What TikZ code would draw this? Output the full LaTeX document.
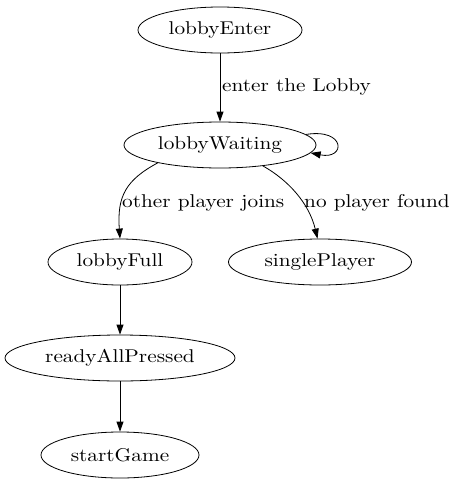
\documentclass[tikz,border=0pt]{standalone}
\usepackage{fontspec}
\setmainfont{lmroman10-regular.otf}[FakeStretch=1.15]
\usetikzlibrary{shapes.geometric,arrows.meta}
\begin{document}
\begin{tikzpicture}[x=1pt,y=-1pt,
  state/.style={draw,ellipse,inner sep=0pt,minimum height=46pt,font=\fontsize{18.5}{20}\selectfont,line width=0.8pt},
  lbl/.style={anchor=west,inner sep=0pt,font=\fontsize{18.5}{20}\selectfont},
  edge/.style={-{Triangle[length=10pt,width=7pt]},line width=0.8pt}]
\useasboundingbox (0,0) rectangle (458,485);
\node[state,minimum width=164pt] (le) at (220,30) {lobbyEnter};
\node[state,minimum width=192pt] (lw) at (220,145) {lobbyWaiting};
\node[state,minimum width=144pt] (lf) at (120,262) {lobbyFull};
\node[state,minimum width=183pt] (sp) at (320,262) {singlePlayer};
\node[state,minimum width=230pt] (ra) at (120,358) {readyAllPressed};
\node[state,minimum width=158pt] (sg) at (120,455) {startGame};
\draw[edge] (le) -- (lw);
\draw[edge] (lw.7) .. controls (346,128) and (346,160) .. (lw.-5);
\draw[edge] (lw.196) .. controls (126,180) and (117,196) .. (lf.north);
\draw[edge] (lw.-26) .. controls (288,180) and (309,203) .. (sp.96);
\draw[edge] (lf) -- (ra);
\draw[edge] (ra) -- (sg);
\node[lbl] (l1) at (222,87) {enter the Lobby};
\node[lbl] (l2) at (122,203) {other player joins};
\node[lbl] (l3) at (304,203) {no player found};
\end{tikzpicture}
\end{document}
